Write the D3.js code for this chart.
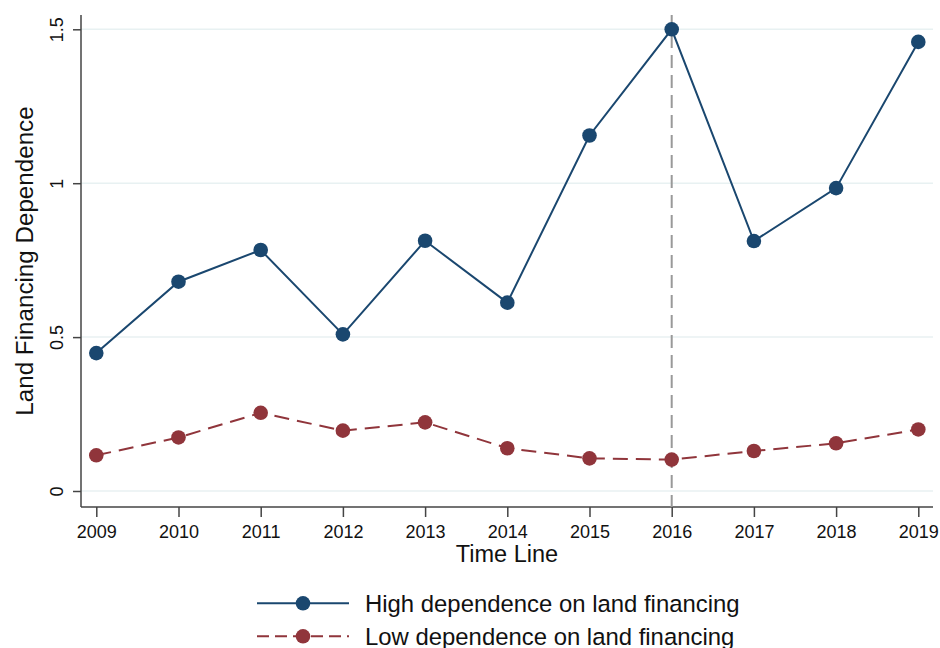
<!DOCTYPE html>
<html><head><meta charset="utf-8">
<script src="https://cdn.jsdelivr.net/npm/d3@7"></script>
<style>body{margin:0;background:#fff}svg{display:block;font-family:"Liberation Sans",Arial,sans-serif}</style>
</head><body>
<svg id="c" width="940" height="648"></svg>
<script>
const years = [2009,2010,2011,2012,2013,2014,2015,2016,2017,2018,2019];
const highDep = [0.448,0.680,0.783,0.509,0.813,0.612,1.155,1.500,0.812,0.984,1.459];
const lowDep  = [0.116,0.174,0.254,0.196,0.223,0.139,0.106,0.102,0.130,0.155,0.200];
const yTicks = [0,0.5,1,1.5];
const yTickLabels = ["0","0.5","1","1.5"];
const seriesNames = ["High dependence on land financing","Low dependence on land financing"];
const refYear = 2016;

(function(){
const svg = d3.select("#c");
const x = d3.scaleLinear().domain([2009,2019]).range([96.3,918.3]);
const y = d3.scaleLinear().domain([0,1.5]).range([491,29.3]);
const pL = 81, pR = 933, pB = 507, pT = 15;

// gridlines
svg.append("g").selectAll("line").data(yTicks).join("line")
  .attr("x1",pL).attr("x2",pR).attr("y1",d=>y(d)).attr("y2",d=>y(d))
  .attr("stroke","#e8f1f2").attr("stroke-width",1.5);

// axes
const yAxis = d3.axisLeft(y).tickValues(yTicks).tickSize(8).tickFormat((d,i)=>yTickLabels[i]);
const gy = svg.append("g").attr("transform",`translate(${pL},0)`).call(yAxis);
gy.select(".domain").attr("d",`M0,${pT}V${pB}`).attr("stroke","#444").attr("stroke-width",1.5);
gy.selectAll(".tick line").attr("stroke","#444").attr("stroke-width",1.5);
gy.selectAll(".tick text").attr("font-size",18).attr("fill","#111")
  .attr("transform","translate(-18,0) rotate(-90)").attr("x",0).attr("y",0).attr("dy",0)
  .attr("text-anchor","middle");

const xAxis = d3.axisBottom(x).tickValues(years).tickSize(10).tickFormat(d3.format("d"));
const gx = svg.append("g").attr("transform",`translate(0,${pB})`).call(xAxis);
gx.select(".domain").attr("d",`M${pL},0H${pR}`).attr("stroke","#444").attr("stroke-width",1.5);
gx.selectAll(".tick line").attr("stroke","#444").attr("stroke-width",1.5);
gx.selectAll(".tick text").attr("font-size",18).attr("fill","#111").attr("y",31).attr("dy",0);

// reference line
svg.append("line").attr("x1",x(refYear)).attr("x2",x(refYear)).attr("y1",pT).attr("y2",pB)
  .attr("stroke","#999").attr("stroke-width",2).attr("stroke-dasharray","13,7");

// titles
svg.append("text").attr("x",507).attr("y",562).attr("text-anchor","middle")
  .attr("font-size",23.5).attr("fill","#111").text("Time Line");
svg.append("text").attr("transform","translate(33,261) rotate(-90)").attr("text-anchor","middle")
  .attr("font-size",24.2).attr("fill","#111").text("Land Financing Dependence");

const colors = ["#1a476f","#90353b"];
const dashes = [null,"15,8"];
const line = d3.line().x((d,i)=>x(years[i])).y(d=>y(d));
[highDep,lowDep].forEach((vals,k)=>{
  svg.append("path").datum(vals).attr("d",line).attr("fill","none")
    .attr("stroke",colors[k]).attr("stroke-width",2).attr("stroke-dasharray",dashes[k]);
  svg.append("g").selectAll("circle").data(vals).join("circle")
    .attr("cx",(d,i)=>x(years[i])).attr("cy",d=>y(d)).attr("r",7.3).attr("fill",colors[k]);
});

// legend
const legY = [603.3,636.3];
seriesNames.forEach((n,k)=>{
  const g = svg.append("g");
  g.append("line").attr("x1",257).attr("x2",349).attr("y1",legY[k]).attr("y2",legY[k])
    .attr("stroke",colors[k]).attr("stroke-width",2).attr("stroke-dasharray",k?"12,6":null);
  g.append("circle").attr("cx",303).attr("cy",legY[k]).attr("r",7.3).attr("fill",colors[k]);
  g.append("text").attr("x",365).attr("y",legY[k]+8.3).attr("font-size",23.9).attr("fill","#111").text(n);
});
})();
</script>
</body></html>
